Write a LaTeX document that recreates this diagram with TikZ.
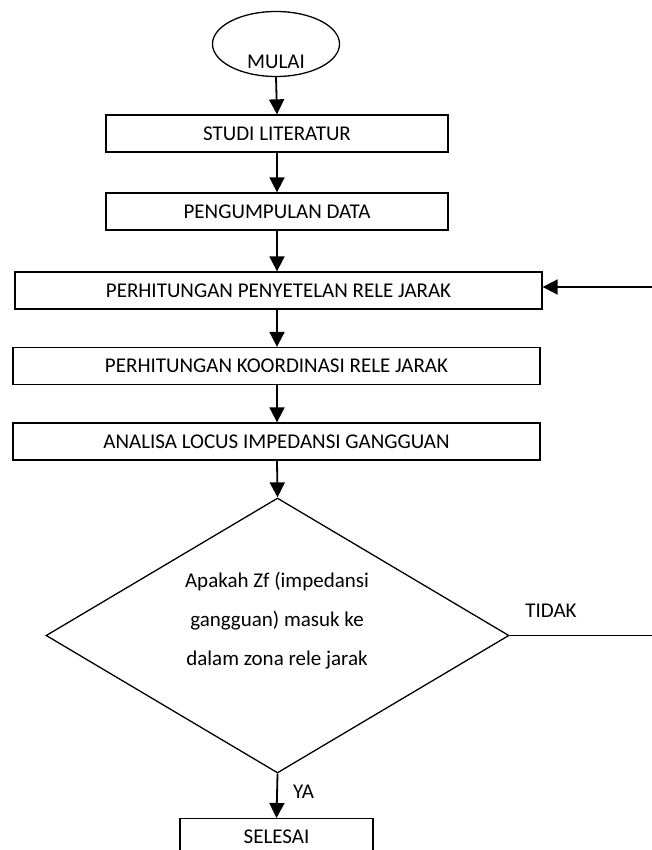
\documentclass[tikz,border=0pt]{standalone}
\usepackage{fontspec}
\setmainfont{Carlito}
\usetikzlibrary{shapes.geometric,arrows.meta}
\begin{document}
\begin{tikzpicture}[x=1pt,y=-1pt,
  every node/.style={font=\fontsize{21}{25}\selectfont},
  stepbox/.style={draw, line width=1.3pt, minimum height=37pt, inner sep=0pt},
  flow/.style={line width=1.8pt, -{Triangle[width=15pt,length=15pt]}},
  plain/.style={line width=1.6pt}]
\useasboundingbox (0,0) rectangle (652,850);
\clip (0,0) rectangle (652,850);
\node[draw, ellipse, line width=1.3pt, minimum width=127pt, minimum height=65pt, inner sep=0pt] (mulai) at (276,44) {};
\node (mulaitxt) at (276,62) {MULAI};
\node[stepbox, minimum width=342pt] (studi) at (277,133.5) {STUDI LITERATUR};
\node[stepbox, minimum width=342pt] (data) at (277,211.5) {PENGUMPULAN DATA};
\node[stepbox, minimum width=527pt] (setel) at (278.5,290.5) {PERHITUNGAN PENYETELAN RELE JARAK};
\node[stepbox, minimum width=527pt] (koord) at (276.5,366) {PERHITUNGAN KOORDINASI RELE JARAK};
\node[stepbox, minimum width=527pt] (locus) at (276.5,441.5) {ANALISA LOCUS IMPEDANSI GANGGUAN};
\node[draw, diamond, line width=1.3pt, minimum width=463pt, minimum height=275pt, inner sep=0pt] (tanya) at (277.5,635.5) {};
\node[align=center, font=\fontsize{21}{39}\selectfont] (tanyatxt) at (277,621) {Apakah Zf (impedansi\\gangguan) masuk ke\\dalam zona rele jarak};
\node[stepbox, minimum width=193pt, minimum height=50pt, anchor=north] (selesai) at (276.5,818) {};
\node (selesaitxt) at (276.5,836.5) {SELESAI};
\node (ya) at (303.5,792) {YA};
\node (tidak) at (551,611) {TIDAK};
\coordinate (tidakend) at (655,635.5);
\coordinate (balik) at (655,287);
\draw[flow] (mulai.south) -- (studi.north);
\draw[flow] (studi) -- (data);
\draw[flow] (data) -- (data.south |- setel.north);
\draw[flow] (data.south |- setel.south) -- (data.south |- koord.north);
\draw[flow] (data.south |- koord.south) -- (data.south |- locus.north);
\draw[flow] (data.south |- locus.south) -- (tanya.north);
\draw[flow] (tanya.south) -- (selesai.north);
\draw[plain] (tanya.east) -- (tidakend);
\draw[flow] (balik) -- (setel.east |- balik);
\end{tikzpicture}
\end{document}
